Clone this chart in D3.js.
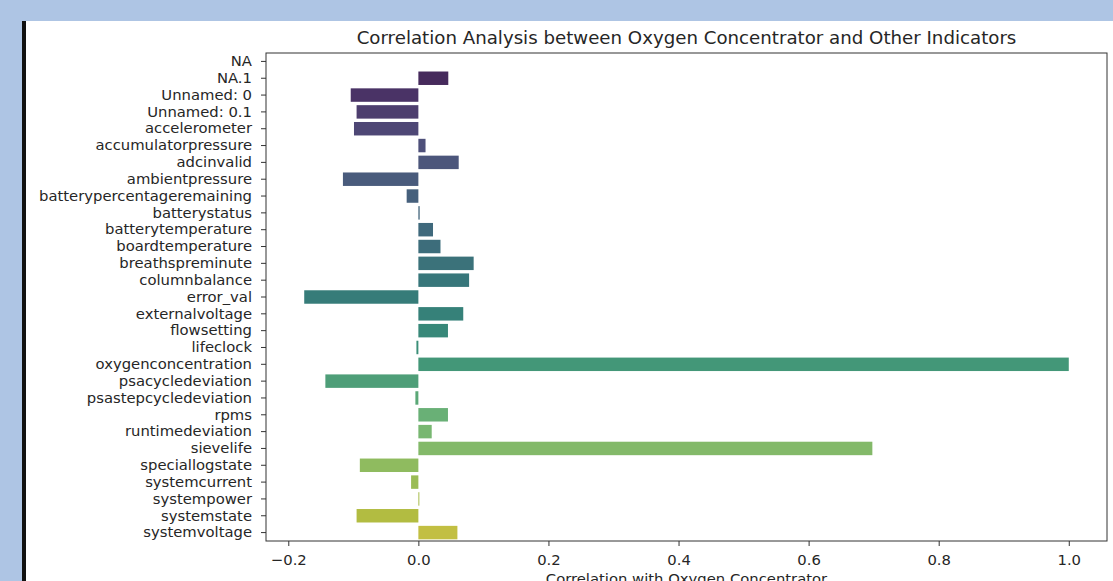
<!DOCTYPE html>
<html>
<head>
<meta charset="utf-8">
<script src="https://cdn.jsdelivr.net/npm/d3@7/dist/d3.min.js"></script>
<style>
  html, body { margin: 0; padding: 0; background: #aec5e4; }
  svg { display: block; }
  text { font-family: "DejaVu Sans", sans-serif; fill: #262626; }
</style>
</head>
<body>
<svg id="chart" width="1113" height="581"></svg>
<script>
// Indicators compared against the oxygen concentrator reading
const indicators = [
  "NA", "NA.1", "Unnamed: 0", "Unnamed: 0.1", "accelerometer",
  "accumulatorpressure", "adcinvalid", "ambientpressure",
  "batterypercentageremaining", "batterystatus", "batterytemperature",
  "boardtemperature", "breathspreminute", "columnbalance", "error_val",
  "externalvoltage", "flowsetting", "lifeclock", "oxygenconcentration",
  "psacycledeviation", "psastepcycledeviation", "rpms", "runtimedeviation",
  "sievelife", "speciallogstate", "systemcurrent", "systempower",
  "systemstate", "systemvoltage"
];

// Pearson correlation of each indicator with the concentrator (NA has none)
const correlations = [
  null, 0.046, -0.104, -0.095, -0.099,
  0.011, 0.062, -0.116,
  -0.018, 0.002, 0.0225,
  0.034, 0.085, 0.078, -0.1755,
  0.069, 0.0455, -0.003, 1.0,
  -0.143, -0.0046, 0.0455, 0.0205,
  0.698, -0.090, -0.0112, 0.0015,
  -0.095, 0.060
];

const xTicks = [-0.2, 0.0, 0.2, 0.4, 0.6, 0.8, 1.0];

const titleText = "Correlation Analysis between Oxygen Concentrator and Other Indicators";
const xLabelText = "Correlation with Oxygen Concentrator";

const W = 1113, H = 581;
const plot = { left: 266, right: 1107, top: 53, bottom: 541 };
const tickFont = 14.8;

const svg = d3.select("#chart");

// page frame: blue surround, dark rule on the left, white canvas
svg.append("rect").attr("x", 0).attr("y", 0).attr("width", W).attr("height", H).attr("fill", "#aec5e4");
svg.append("rect").attr("x", 26).attr("y", 21).attr("width", W - 26).attr("height", H - 21).attr("fill", "#ffffff");
svg.append("rect").attr("x", 22).attr("y", 21).attr("width", 4).attr("height", H - 21).attr("fill", "#111111");

// x domain padded by 5% on each side of the data range
const vals = correlations.filter(v => v != null);
const lo = Math.min(0, d3.min(vals)), hi = Math.max(0, d3.max(vals));
const pad = (hi - lo) * 0.05;
const x = d3.scaleLinear().domain([lo - pad, hi + pad]).range([plot.left, plot.right]);

const y = d3.scaleBand().domain(indicators).range([plot.top, plot.bottom]).paddingInner(0.2).paddingOuter(0.1);

// viridis palette with end points trimmed, desaturated for the bars
const n = indicators.length;
const color = i => {
  const c = d3.hsl(d3.interpolateViridis((i + 1) / (n + 1)));
  c.s *= 0.62;
  return c.formatHex();
};

const data = indicators.map((name, i) => ({ name, value: correlations[i], i }));

svg.append("g").selectAll("rect")
  .data(data.filter(d => d.value != null))
  .join("rect")
  .attr("x", d => x(Math.min(0, d.value)))
  .attr("width", d => Math.abs(x(d.value) - x(0)))
  .attr("y", d => y(d.name))
  .attr("height", y.bandwidth())
  .attr("fill", d => color(d.i));

// axes
const xAxis = svg.append("g")
  .attr("transform", `translate(0,${plot.bottom})`)
  .call(d3.axisBottom(x).tickValues(xTicks).tickFormat(d => d.toFixed(1).replace("-", "\u2212")).tickSize(5).tickPadding(8));

const yAxis = svg.append("g")
  .attr("transform", `translate(${plot.left},0)`)
  .call(d3.axisLeft(y).tickSize(5).tickPadding(9));

[xAxis, yAxis].forEach(g => {
  g.select(".domain").remove();
  g.selectAll("line").attr("stroke", "#333333").attr("stroke-width", 1);
  g.selectAll("text").attr("font-size", tickFont).attr("fill", "#262626").style("font-family", "DejaVu Sans, sans-serif");
});

// frame around the plotting area
svg.append("rect")
  .attr("x", plot.left).attr("y", plot.top)
  .attr("width", plot.right - plot.left).attr("height", plot.bottom - plot.top)
  .attr("fill", "none").attr("stroke", "#333333").attr("stroke-width", 1);

svg.append("text")
  .attr("x", (plot.left + plot.right) / 2).attr("y", 44)
  .attr("text-anchor", "middle").attr("font-size", 18.2)
  .text(titleText);

svg.append("text")
  .attr("x", (plot.left + plot.right) / 2).attr("y", 584)
  .attr("text-anchor", "middle").attr("font-size", tickFont)
  .text(xLabelText);
</script>
</body>
</html>
